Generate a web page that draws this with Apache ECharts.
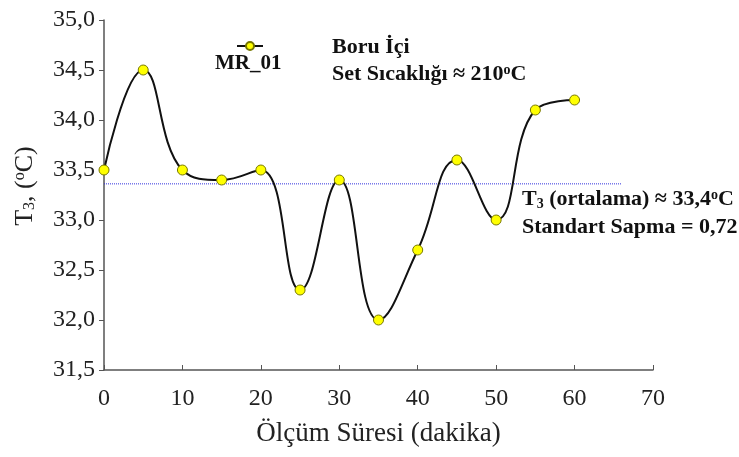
<!DOCTYPE html>
<html><head><meta charset="utf-8">
<script src="https://cdn.jsdelivr.net/npm/echarts@6/dist/echarts.min.js"></script>
<style>html,body{margin:0;padding:0;background:#fff}#c{width:739px;height:457px}</style>
</head><body><div id="c"></div>
<script>
var times = [0, 5, 10, 15, 20, 25, 30, 35, 40, 45, 50, 55, 60];
var temps = [33.5, 34.5, 33.5, 33.4, 33.5, 32.3, 33.4, 32.0, 32.7, 33.6, 33.0, 34.1, 34.2];
var seriesName = 'MR_01';
var meanEndX = 66;
var meanVal = temps.reduce(function(a,b){return a+b;},0)/temps.length;

var chart = echarts.init(document.getElementById('c'));
var serif = '"Liberation Serif","Times New Roman",serif';
chart.setOption({
  animation: false,
  grid: {left: 104, right: 86, top: 20, bottom: 87},
  xAxis: {
    type: 'value', min: 0, max: 70, interval: 10,
    name: 'Ölçüm Süresi (dakika)', nameLocation: 'middle', nameGap: 50,
    nameTextStyle: {fontFamily: serif, fontSize: 27, color: '#222'},
    axisLine: {lineStyle: {color: '#555', width: 1.5}},
    axisTick: {show: true, inside: true, length: 5, lineStyle: {color: '#555'}},
    axisLabel: {fontFamily: serif, fontSize: 24, color: '#222', margin: 17},
    splitLine: {show: false}
  },
  yAxis: {
    type: 'value', min: 31.5, max: 35, interval: 0.5,
    name: '{t|T}{s|3}{t|, (}{p|o}{t|C)}', nameLocation: 'middle', nameGap: 66, nameRotate: 90,
    nameTextStyle: {padding: [0, 0, 0, 18], rich: {
      t: {fontFamily: serif, fontSize: 26, color: '#222'},
      s: {fontFamily: serif, fontSize: 16, color: '#222', verticalAlign: 'bottom', padding: [10,0,0,0]},
      p: {fontFamily: serif, fontSize: 16, color: '#222', verticalAlign: 'top', padding: [0,0,10,0]}
    }},
    axisLine: {show: true, lineStyle: {color: '#555', width: 1.5}},
    axisTick: {show: true, length: 5, lineStyle: {color: '#555'}},
    axisLabel: {fontFamily: serif, fontSize: 24, color: '#222', margin: 9,
      formatter: function(v){return v.toFixed(1).replace('.', ',');}},
    splitLine: {show: false}
  },
  legend: {
    show: true, left: 231, top: 36, itemWidth: 26, itemHeight: 10,
    data: [{name: seriesName}],
    formatter: function(){return '';},
    textStyle: {fontSize: 1}
  },
  graphic: [
    {type: 'text', left: 215, top: 53, style: {text: 'MR_01', font: 'bold 21px ' + serif, fill: '#111'}},
    {type: 'text', left: 332, top: 36, style: {text: 'Boru İçi', font: 'bold 22px ' + serif, fill: '#111'}},
    {type: 'text', left: 332, top: 63, style: {
      text: '{b|Set Sıcaklığı ≈ 210}{sp|o}{b|C}',
      rich: {b: {font: 'bold 22px ' + serif, fill: '#111'},
             sp: {font: 'bold 14px ' + serif, fill: '#111', verticalAlign: 'top', padding: [0,0,9,0]}}}},
    {type: 'text', left: 522, top: 188, style: {
      text: '{b|T}{sb|3}{b| (ortalama) ≈ 33,4}{sp|o}{b|C}',
      rich: {b: {font: 'bold 22px ' + serif, fill: '#111'},
             sb: {font: 'bold 14px ' + serif, fill: '#111', verticalAlign: 'bottom', padding: [8,0,0,0]},
             sp: {font: 'bold 14px ' + serif, fill: '#111', verticalAlign: 'top', padding: [0,0,9,0]}}}},
    {type: 'text', left: 522, top: 216, style: {text: 'Standart Sapma = 0,72', font: 'bold 22px ' + serif, fill: '#111'}}
  ],
  series: [
    {
      name: 'mean', type: 'line', data: [[0, meanVal], [meanEndX, meanVal]],
      symbol: 'none', lineStyle: {color: '#3333dd', width: 1, type: [1, 1]}, silent: true, z: 1
    },
    {
      name: seriesName, type: 'line',
      data: times.map(function(t, i){return [t, temps[i]];}),
      smooth: 0.45,
      symbol: 'circle', symbolSize: 10,
      lineStyle: {color: '#111', width: 2},
      itemStyle: {color: '#ffff00', borderColor: '#777700', borderWidth: 1},
      z: 3
    }
  ]
});
</script></body></html>
